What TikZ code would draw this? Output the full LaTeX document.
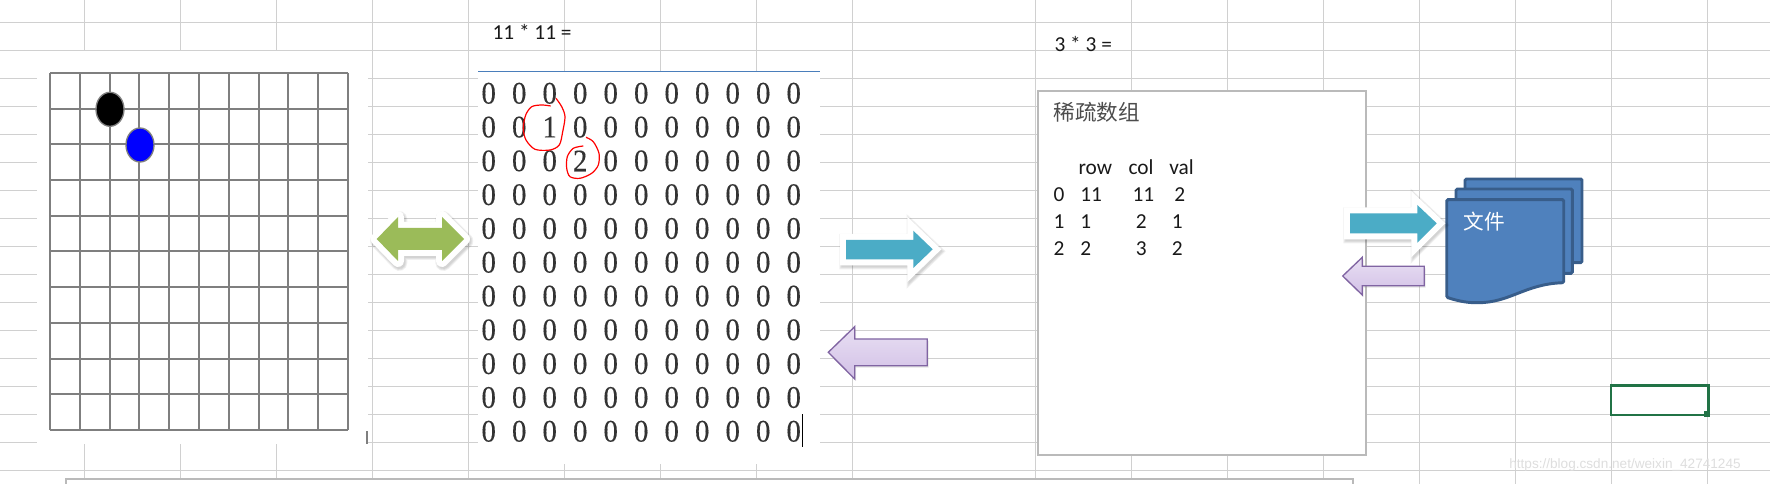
\documentclass[tikz,border=0pt]{standalone}
\usepackage{fontspec}
\setmainfont{Carlito}
\newfontfamily\zerofont[FakeStretch=0.92,FakeBold=0.25]{Liberation Serif}
\newfontfamily\markfont{Liberation Sans}
\newfontfamily\cjkfont{Noto Sans CJK SC}
\usetikzlibrary{shadows}
\definecolor{sheetline}{HTML}{D0D0D0}
\definecolor{boardline}{HTML}{7F7F7F}
\definecolor{boxline}{HTML}{BABABA}
\definecolor{rulerblue}{HTML}{4A7EBB}
\definecolor{arrowgreen}{HTML}{9BBB59}
\definecolor{arrowteal}{HTML}{4BACC6}
\definecolor{arrowedge}{HTML}{8064A2}
\definecolor{arrowtop}{HTML}{E8DFF3}
\definecolor{arrowlow}{HTML}{D2C0E6}
\definecolor{docfill}{HTML}{4F81BD}
\definecolor{docedge}{HTML}{385D8A}
\definecolor{cellgreen}{HTML}{217346}

\begin{document}
\begin{tikzpicture}[
    x=0.75pt,y=-0.75pt,
    sheet/.style={draw=sheetline,line width=1pt},
    panel/.style={fill=white,draw=none},
    board/.style={draw=boardline,line width=1.5pt},
    stone/.style={draw=boardline,line width=1pt},
    zero/.style={font=\zerofont\fontsize{23.5}{24}\selectfont,text=black!80,inner sep=0pt},
    cell/.style={font=\fontsize{16}{18}\selectfont,text=black!90,anchor=base west,inner sep=0pt},
    freehand/.style={draw=red,line width=0.9pt},
    edgeshadow/.style={draw=black,fill=black,opacity=0.06,line width=#1,line join=miter,
                       xshift=1pt,yshift=-1.5pt},
    whiteedge/.style={fill=white,draw=white,line width=9pt,line join=miter},
    purplearrow/.style={top color=arrowtop,bottom color=arrowlow,draw=arrowedge,line width=1pt,
                        drop shadow={shadow xshift=1pt,shadow yshift=-1.5pt,opacity=0.2}},
    docpage/.style={fill=docfill,draw=docedge,line width=2.2pt,rounded corners=1pt},
]
\useasboundingbox (0,0) rectangle (1770,484);
\fill[white] (0,0) rectangle (1770,484);

% ---- arrow outlines ------------------------------------------------------
\def\arrowGreen{(376.7,239) -- (398,217) -- (398,228) -- (442,228) -- (442,217) -- (464,239)
    -- (442,261) -- (442,250) -- (398,250) -- (398,261) -- cycle}
\def\arrowTealA{(846,240) -- (913.3,240) -- (913.3,230.7) -- (932.7,249.3) -- (913.3,268)
    -- (913.3,259.3) -- (846,259.3) -- cycle}
\def\arrowTealB{(1350,213.3) -- (1417.3,213.3) -- (1417.3,205) -- (1436.7,223.3) -- (1417.3,242.7)
    -- (1417.3,233.3) -- (1350,233.3) -- cycle}

% ---- spreadsheet lines ---------------------------------------------------
\foreach \y in {22.7,50.7,...,471}
    \draw[sheet] (0,\y) -- (1770,\y);
\foreach \x in {84.7,180.7,276.7,372.7,468.7,564.7,660.7,756.7,852.7,
                1035.7,1131.7,1227.7,1323.7,1419.7,1515.7,1611.7,1707.7}
    \draw[sheet] (\x,0) -- (\x,484);

% ---- white panels --------------------------------------------------------
\fill[panel] (37,51.5) rectangle (368,443.5);
\fill[panel] (478,72) rectangle (820,464);
\draw[boxline,line width=2.2pt,fill=white] (66,479) rectangle (1353,495);
\draw[boxline,line width=2.2pt,fill=white] (1038,91) rectangle (1366,455);

% ---- board ---------------------------------------------------------------
\foreach \i in {0,...,10} {
    \draw[board] ({50+29.8*\i},73) -- ({50+29.8*\i},430);
    \draw[board] (50,{73+35.7*\i}) -- (348,{73+35.7*\i});
}
\draw[stone,fill=black] (110,109.3) ellipse (14 and 17);
\draw[stone,fill=blue] (140,145) ellipse (14 and 17);
\draw[boardline,line width=1.5pt] (366.7,431) -- (366.7,444);

% ---- matrix --------------------------------------------------------------
\node[cell] (sizeA) at (492.3,40) {11 * 11 =};
\draw[rulerblue,line width=1pt] (478,71.5) -- (820,71.5);
\foreach \r in {1,...,11}
    \foreach \c in {1,...,11}
        \node[zero] (z\r-\c) at ({488.7+30.5*(\c-1)},{93.3+33.8*(\r-1)})
            {\ifnum\r\c=23 1\else\ifnum\r\c=34 2\else 0\fi\fi};
\draw[black,line width=1.1pt] (802.3,414.3) -- (802.3,447.3);
\draw[freehand] plot[smooth] coordinates {(556,98.3) (561.7,106.7) (565,116.7) (562.7,131.7)
    (559.3,145) (550,150) (535,149.3) (526,140) (523.3,128.3) (525.7,115) (531.7,106.7)
    (541.7,105) (550.7,106)};
\draw[freehand] plot[smooth] coordinates {(586,137.3) (593.3,141.7) (599,153.3) (598.3,165)
    (591.7,173.3) (580,178.3) (570,176.7) (566.7,168.3) (567.3,156.7) (573.3,148.3) (583.3,146)};

% ---- sparse array --------------------------------------------------------
\node[cell] (sizeB) at (1054.3,51.7) {3 * 3 =};
\node[cell,font=\cjkfont\fontsize{16.2}{18}\selectfont,text=black!70,anchor=west] (title) at (1053.3,112.7) {稀疏数组};
\foreach \x/\y/\txt [count=\n] in {1078.3/175/row,1128.3/175/col,1169/175/val,
    1053.3/201.7/0,1080/201.7/11,1132.3/201.7/11,1174/201.7/2,
    1053.3/229/1,1080/229/1,1135.7/229/2,1171.7/229/1,
    1053.3/256/2,1080/256/2,1135.7/256/3,1171.7/256/2}
    \node[cell] (t\n) at (\x,\y) {\txt};

% ---- file stack ----------------------------------------------------------
\draw[docpage] (1465,179) rectangle (1582,262.7);
\draw[docpage] (1456,189) rectangle (1572.3,273.3);
\draw[docpage] (1446.7,199.7) -- (1563.7,199.7) -- (1563.7,282.7)
    .. controls (1525,284) and (1510,302.7) .. (1476.7,302.7)
    .. controls (1465,302.7) and (1455,300) .. (1446.7,297.3) -- cycle;
\node[font=\cjkfont\fontsize{15.5}{18}\selectfont,text=white,inner sep=0pt] (file) at (1484,222) {文件};

% ---- arrows --------------------------------------------------------------
\foreach \w in {12pt,10.5pt,9pt} {
    \path[edgeshadow=\w,line join=round] \arrowGreen;
    \path[edgeshadow=\w] \arrowTealA;
    \path[edgeshadow=\w] \arrowTealB;
}
\path[whiteedge,line join=round] \arrowGreen;
\fill[arrowgreen] \arrowGreen;
\path[whiteedge] \arrowTealA;
\fill[arrowteal] \arrowTealA;
\path[whiteedge] \arrowTealB;
\fill[arrowteal] \arrowTealB;
\draw[purplearrow] (828.3,352.3) -- (854.7,326.7) -- (854.7,339) -- (927.3,339) -- (927.3,365.7)
    -- (854.7,365.7) -- (854.7,379) -- cycle;
\draw[purplearrow] (1342.7,276) -- (1362.3,257.3) -- (1362.3,266.3) -- (1424.3,266.3) -- (1424.3,285.7)
    -- (1362.3,285.7) -- (1362.3,295) -- cycle;

% ---- selected cell and watermark -----------------------------------------
\draw[cellgreen,line width=1.8pt] (1610.7,385.7) rectangle (1708.3,415);
\fill[cellgreen] (1703.7,411) rectangle (1709.7,417);
\node[font=\markfont\fontsize{10.2}{12}\selectfont,text=black!13,inner sep=0pt] (mark) at (1625,465)
    {https://blog.csdn.net/weixin\_42741245};

\end{tikzpicture}
\end{document}
